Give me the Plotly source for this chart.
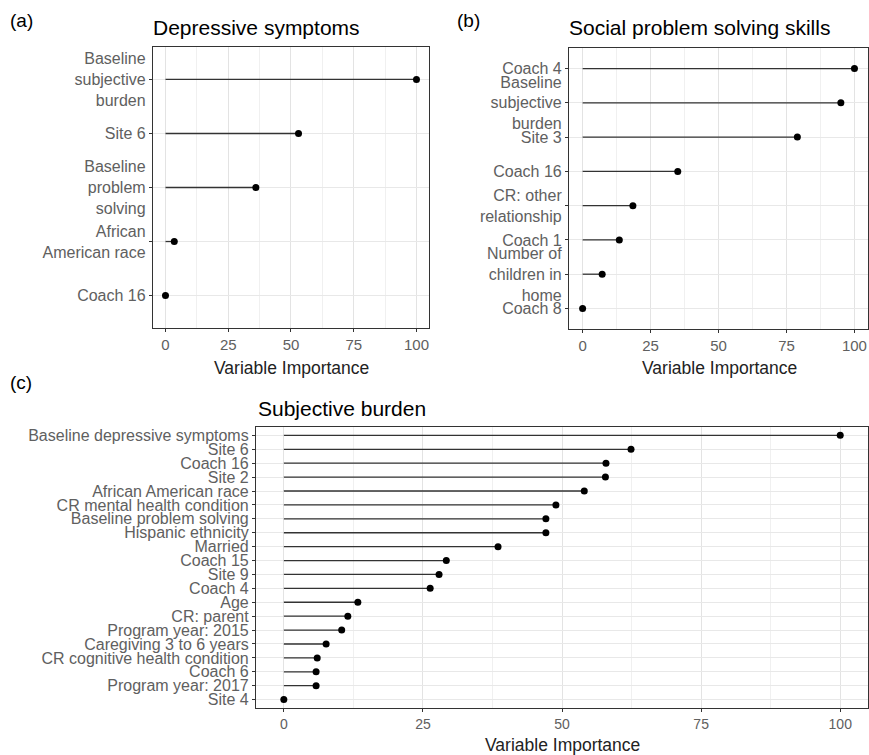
import plotly.graph_objects as go

# ---------------- data ----------------
a_labels = ["Baseline<br>subjective<br>burden", "Site 6", "Baseline<br>problem<br>solving",
            "African<br>American race", "Coach 16"]
a_values = [100, 53, 36, 3.5, 0]

b_labels = ["Coach 4", "Baseline<br>subjective<br>burden", "Site 3", "Coach 16",
            "CR: other<br>relationship", "Coach 1", "Number of<br>children in<br>home", "Coach 8"]
b_values = [100, 95, 79, 35, 18.5, 13.5, 7.2, 0]

c_labels = ["Baseline depressive symptoms", "Site 6", "Coach 16", "Site 2", "African American race",
            "CR mental health condition", "Baseline problem solving", "Hispanic ethnicity", "Married",
            "Coach 15", "Site 9", "Coach 4", "Age", "CR: parent", "Program year: 2015",
            "Caregiving 3 to 6 years", "CR cognitive health condition", "Coach 6",
            "Program year: 2017", "Site 4"]
c_values = [100, 62.4, 57.9, 57.8, 54.0, 48.9, 47.1, 47.1, 38.5, 29.2, 27.9, 26.3,
            13.3, 11.5, 10.4, 7.6, 6.0, 5.8, 5.8, 0]

x_ticks = [0, 25, 50, 75, 100]

FONT = "Liberation Sans, Arial, sans-serif"
TICK_GRAY = "#606060"

fig = go.Figure()

panels = [
    (a_labels, a_values, "x", "y"),
    (b_labels, b_values, "x2", "y2"),
    (c_labels, c_values, "x3", "y3"),
]
for labels, values, xa, ya in panels:
    xs, ys = [], []
    for lab, v in zip(labels, values):
        xs += [0, v, None]
        ys += [lab, lab, None]
    fig.add_trace(go.Scatter(x=xs, y=ys, mode="lines", line=dict(color="#333333", width=1.3),
                             xaxis=xa, yaxis=ya, showlegend=False, hoverinfo="skip"))
    fig.add_trace(go.Scatter(x=values, y=labels, mode="markers",
                             marker=dict(color="black", size=7),
                             xaxis=xa, yaxis=ya, showlegend=False))


def xaxis(domain, anchor, tick_size):
    return dict(domain=domain, anchor=anchor, range=[-5, 105], tickvals=x_ticks,
                showline=True, mirror=True, linecolor="#333333", linewidth=1.2,
                ticks="outside", ticklen=3, tickcolor="#333333",
                showgrid=True, gridcolor="#e3e3e3", gridwidth=1, zeroline=False,
                minor=dict(tickvals=[12.5, 37.5, 62.5, 87.5], showgrid=True,
                           gridcolor="#f0f0f0", gridwidth=0.8),
                tickfont=dict(family=FONT, size=tick_size, color=TICK_GRAY))


def yaxis(domain, anchor, labels, size):
    n = len(labels)
    return dict(domain=domain, anchor=anchor, type="category", categoryorder="array",
                categoryarray=labels, range=[n - 0.4, -0.6],
                tickmode="array", tickvals=labels, ticktext=labels,
                showline=True, mirror=True, linecolor="#333333", linewidth=1.2,
                ticks="outside", ticklen=3, tickcolor="#333333",
                showgrid=True, gridcolor="#e8e8e8", gridwidth=1, zeroline=False,
                tickfont=dict(family=FONT, size=size, color=TICK_GRAY))


fig.update_layout(
    width=869, height=755,
    margin=dict(l=0, r=0, t=0, b=0),
    paper_bgcolor="white", plot_bgcolor="white",
    font=dict(family=FONT),
    xaxis=xaxis([0.176, 0.4937], "y", 15),
    yaxis=yaxis([0.5656, 0.9377], "x", a_labels, 16),
    xaxis2=xaxis([0.6548, 0.9989], "y2", 15),
    yaxis2=yaxis([0.5642, 0.9364], "x2", b_labels, 16),
    xaxis3=xaxis([0.2946, 0.9989], "y3", 14),
    yaxis3=yaxis([0.0623, 0.4344], "x3", c_labels, 16),
)

ann = []
def txt(x, y, s, size, color="black", xanchor="left"):
    ann.append(dict(x=x / 869, y=1 - y / 755, xref="paper", yref="paper", text=s,
                    showarrow=False, xanchor=xanchor, yanchor="middle",
                    font=dict(family=FONT, size=size, color=color)))

txt(8, 20, "(a)", 19)
txt(455, 20, "(b)", 19)
txt(8, 383, "(c)", 19)
txt(151, 27, "Depressive symptoms", 21)
txt(567, 27, "Social problem solving skills", 21)
txt(256, 408, "Subjective burden", 21)
txt(291, 368, "Variable Importance", 17.5, "#222222", "center")
txt(719, 368, "Variable Importance", 17.5, "#222222", "center")
txt(562, 745, "Variable Importance", 17.5, "#222222", "center")
fig.update_layout(annotations=ann)

fig.write_html("out.html", config={"displayModeBar": False},
               post_script="document.body.style.margin='0';")
